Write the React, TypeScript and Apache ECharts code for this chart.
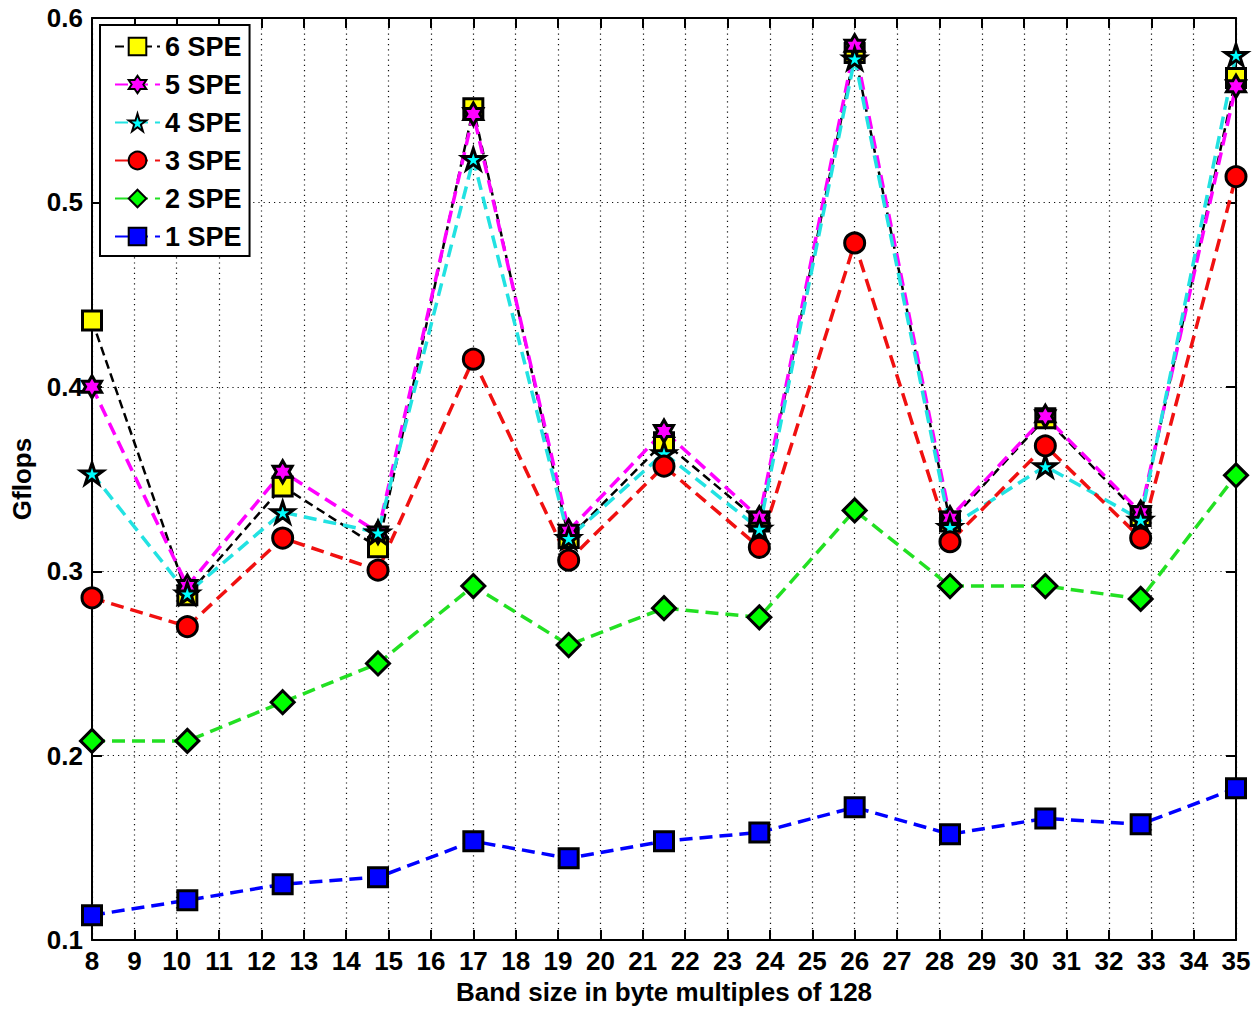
import React, { useEffect, useRef } from "react";
import * as echarts from "echarts";

// Band sizes (multiples of 128 bytes) at which performance was measured
const bandSizes = [8, 10.25, 12.5, 14.75, 17, 19.25, 21.5, 23.75, 26, 28.25, 30.5, 32.75, 35];

// Gflops per SPE count
const spe6 = [0.436, 0.287, 0.346, 0.313, 0.551, 0.318, 0.37, 0.327, 0.581, 0.327, 0.383, 0.33, 0.5675];
const spe5 = [0.4, 0.292, 0.354, 0.321, 0.548, 0.322, 0.376, 0.329, 0.585, 0.329, 0.384, 0.332, 0.563];
const spe4 = [0.353, 0.288, 0.332, 0.321, 0.5235, 0.318, 0.364, 0.323, 0.578, 0.324, 0.357, 0.328, 0.58];
const spe3 = [0.2856, 0.27, 0.318, 0.3006, 0.415, 0.306, 0.357, 0.313, 0.478, 0.316, 0.368, 0.318, 0.514];
const spe2 = [0.208, 0.208, 0.229, 0.25, 0.292, 0.26, 0.28, 0.275, 0.333, 0.292, 0.292, 0.285, 0.352];
const spe1 = [0.1135, 0.1216, 0.1303, 0.1341, 0.1536, 0.1444, 0.1536, 0.1584, 0.172, 0.1574, 0.166, 0.1628, 0.1823];

const seriesNames = ["6 SPE", "5 SPE", "4 SPE", "3 SPE", "2 SPE", "1 SPE"];

const xAxisTitle = "Band size in byte multiples of 128";
const yAxisTitle = "Gflops";

// Star markers
const pentagram =
  "path://M50 0 L61.23 34.55 L97.55 34.55 L68.17 55.9 L79.39 90.45 L50 69.1 L20.61 90.45 L31.83 55.9 L2.45 34.55 L38.77 34.55 Z";
const hexagram =
  "path://M50 0 L64.43 25 L93.3 25 L78.87 50 L93.3 75 L64.43 75 L50 100 L35.57 75 L6.7 75 L21.13 50 L6.7 25 L35.57 25 Z";

const FONT = "'Liberation Sans', Arial, sans-serif";

export default function App() {
  const ref = useRef<HTMLDivElement>(null);

  useEffect(() => {
    if (!ref.current) return;
    const chart = echarts.init(ref.current, undefined, { renderer: "svg" });

    const mk = (
      name: string,
      values: number[],
      lineColor: string,
      fill: string,
      symbol: string,
      size: number,
      lineWidth: number,
      dash: number[]
    ) => ({
      name,
      type: "line",
      data: bandSizes.map((x, i) => [x, values[i]]),
      symbol,
      symbolSize: size,
      symbolKeepAspect: true,
      showAllSymbol: true,
      clip: false,
      lineStyle: { color: lineColor, width: lineWidth, type: dash },
      itemStyle: { color: fill, borderColor: "#000", borderWidth: 3 },
      emphasis: { disabled: true },
    });

    const axisLine = { show: true, lineStyle: { color: "#000", width: 2 } };
    const axisTick = { show: true, inside: true, length: 10, lineStyle: { color: "#000", width: 2 } };
    const gridLine = { show: true, lineStyle: { color: "#111", width: 1.2, type: [1.2, 4] } };
    const labelFont = { color: "#000", fontSize: 26, fontWeight: "bold", fontFamily: FONT };

    chart.setOption({
      animation: false,
      backgroundColor: "#fff",
      grid: { left: 92, right: 20, top: 18, bottom: 68, containLabel: false },
      legend: {
        data: seriesNames,
        orient: "vertical",
        left: 100,
        top: 25,
        padding: [8, 8, 6, 14],
        itemGap: 11,
        itemWidth: 45,
        itemHeight: 22,
        backgroundColor: "#fff",
        borderColor: "#000",
        borderWidth: 2,
        borderRadius: 0,
        textStyle: { ...labelFont, fontSize: 27 },
        selectedMode: false,
      },
      xAxis: [
        {
          type: "value",
          min: 8,
          max: 35,
          interval: 1,
          name: xAxisTitle,
          nameLocation: "middle",
          nameGap: 31,
          nameTextStyle: labelFont,
          axisLine,
          axisTick,
          axisLabel: { ...labelFont, margin: 8 },
          splitLine: gridLine,
        },
        {
          type: "value",
          position: "top",
          min: 8,
          max: 35,
          interval: 1,
          axisLine,
          axisTick,
          axisLabel: { show: false },
          splitLine: { show: false },
        },
      ],
      yAxis: [
        {
          type: "value",
          min: 0.1,
          max: 0.6,
          interval: 0.1,
          name: yAxisTitle,
          nameLocation: "middle",
          nameGap: 57,
          nameRotate: 90,
          nameTextStyle: labelFont,
          axisLine,
          axisTick,
          axisLabel: { ...labelFont, margin: 9, formatter: (v: number) => v.toFixed(1) },
          splitLine: gridLine,
        },
        {
          type: "value",
          position: "right",
          min: 0.1,
          max: 0.6,
          interval: 0.1,
          axisLine,
          axisTick,
          axisLabel: { show: false },
          splitLine: { show: false },
        },
      ],
      series: [
        mk("6 SPE", spe6, "#000", "#ffff00", "rect", 19, 2.5, [9, 5]),
        mk("5 SPE", spe5, "#ff00ff", "#ff00ff", hexagram, 22, 3.5, [13, 7]),
        mk("4 SPE", spe4, "#22e2e2", "#00ffff", pentagram, 22, 3.5, [13, 7]),
        mk("3 SPE", spe3, "#f01010", "#ff0000", "circle", 20, 3.5, [13, 7]),
        mk("2 SPE", spe2, "#22e022", "#00ff00", "diamond", 23, 3.5, [13, 7]),
        mk("1 SPE", spe1, "#0000ff", "#0000ff", "rect", 19, 3.5, [13, 7]),
      ],
    });

    return () => chart.dispose();
  }, []);

  return (
    <div
      ref={ref}
      style={{ position: "fixed", left: 0, top: 0, width: 1256, height: 1010, background: "#fff" }}
    />
  );
}
